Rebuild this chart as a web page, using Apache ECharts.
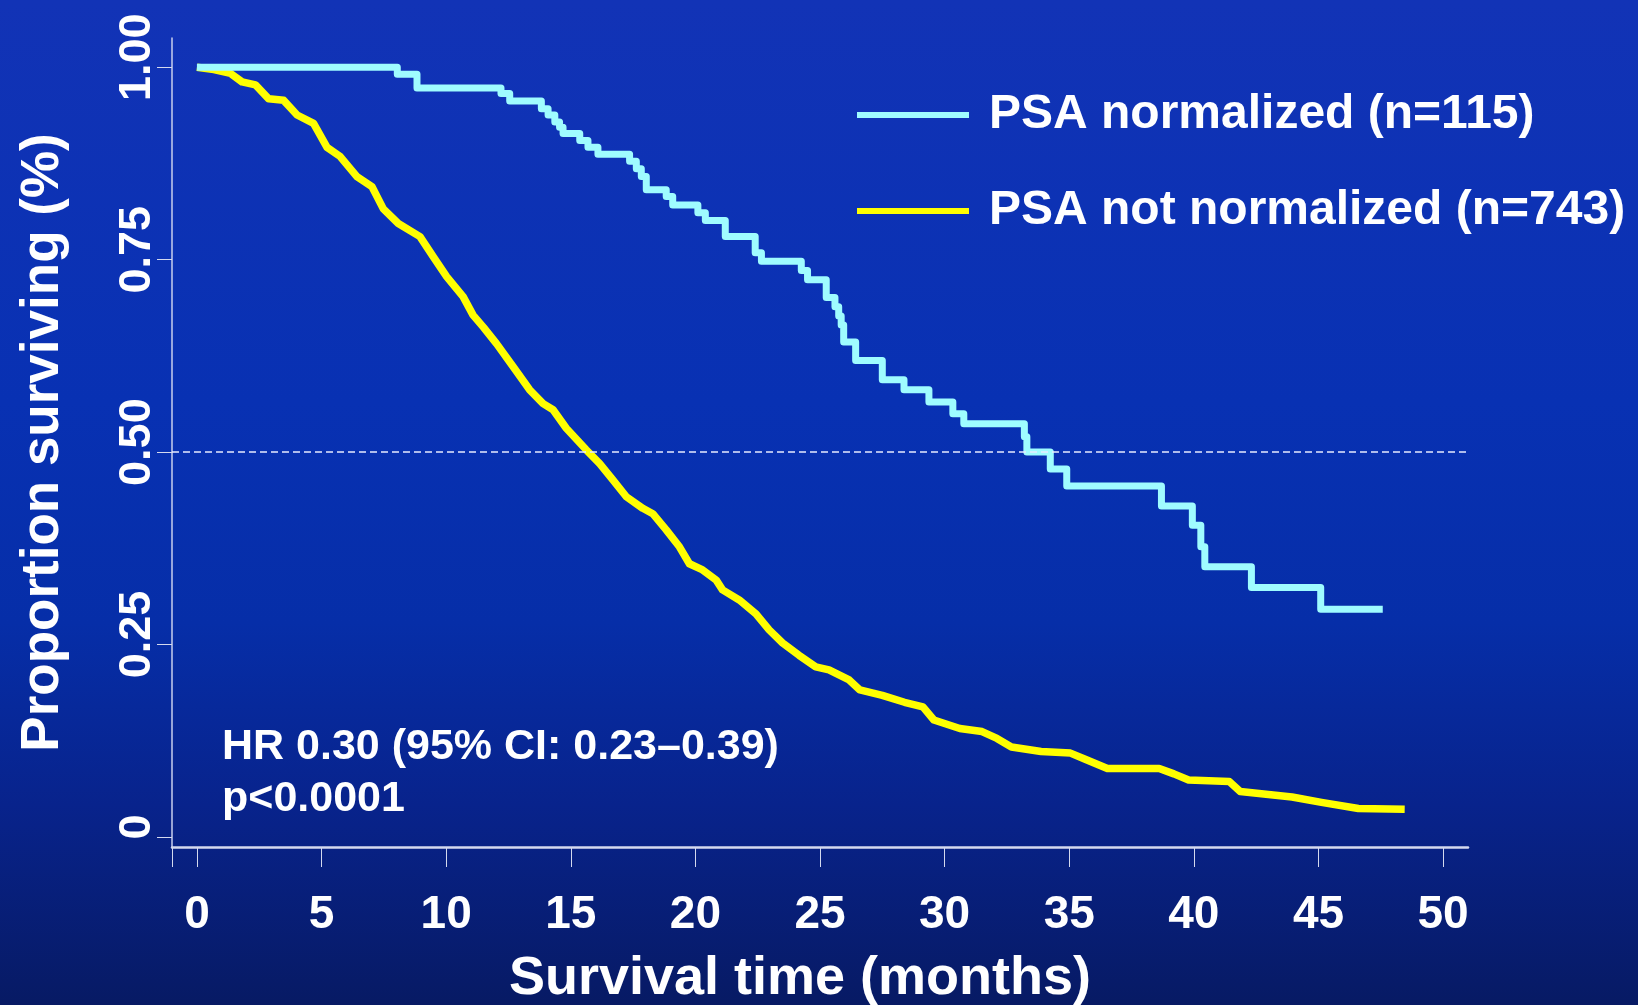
<!DOCTYPE html>
<html>
<head>
<meta charset="utf-8">
<script src="https://cdn.jsdelivr.net/npm/echarts@6/dist/echarts.min.js"></script>
<style>
html, body { margin: 0; padding: 0; }
#main {
	width: 1638px;
	height: 1005px;
	background: linear-gradient(to bottom, #1233b6 0%, #0831b3 40%, #062ea8 62%, #08238c 80%, #071a64 100%);
}
</style>
</head>
<body>
<div id="main"></div>
<script>
// 图例名称
var seriesNames = ['PSA normalized (n=115)', 'PSA not normalized (n=743)'];

// 坐标轴刻度
var xTicks = [0, 5, 10, 15, 20, 25, 30, 35, 40, 45, 50];
var xTickMarks = [-1, 0, 5, 10, 15, 20, 25, 30, 35, 40, 45, 50];
var yTicks = [0, 0.25, 0.5, 0.75, 1];
var yTickLabels = ['0', '0.25', '0.50', '0.75', '1.00'];

// PSA normalized: 每次下降的时间(月) 和 下降后的生存比例
var normTime = [0, 8.04, 8.83, 12.2, 12.55, 13.82, 14.09, 14.36, 14.55, 14.69, 15.36, 15.69, 16.09,
	17.36, 17.63, 17.83, 18.03, 18.83, 19.09, 20.1, 20.4, 21.2, 22.4, 22.65, 24.25, 24.5, 25.25,
	25.6, 25.75, 25.85, 25.95, 26.43, 27.5, 28.37, 29.37, 30.33, 30.77, 33.2, 33.3, 34.24, 34.9,
	38.7, 39.94, 40.28, 40.44, 42.31, 45.09, 47.58];
var normSurv = [1, 0.991, 0.973, 0.966, 0.956, 0.946, 0.938, 0.929, 0.922, 0.914, 0.905, 0.896, 0.887,
	0.878, 0.868, 0.858, 0.841, 0.832, 0.821, 0.811, 0.801, 0.780, 0.759, 0.748, 0.736, 0.724, 0.701,
	0.689, 0.677, 0.665, 0.643, 0.619, 0.594, 0.581, 0.565, 0.550, 0.537, 0.520, 0.500, 0.478, 0.456,
	0.430, 0.405, 0.377, 0.351, 0.324, 0.296, 0.296];

// PSA not normalized
var notNormTime = [0, 0.68, 1.35, 1.81, 2.35, 2.88, 3.48, 4.02, 4.68, 5.22, 5.75, 6.42, 7.02, 7.48,
	8.08, 8.95, 9.48, 10.02, 10.68, 11.08, 11.5, 12.02, 12.69, 13.35, 13.89, 14.29, 14.82, 15.62,
	16.16, 16.69, 17.23, 17.89, 18.29, 18.83, 19.36, 19.76, 20.29, 20.83, 21.09, 21.76, 22.43,
	22.96, 23.5, 24.16, 24.83, 25.36, 26.17, 26.6, 27.5, 28.39, 29.13, 29.57, 30.61, 31.5, 32.1,
	32.68, 33.87, 35.05, 35.64, 36.53, 38.61, 39.2, 39.79, 41.42, 41.86, 43.94, 45.12, 46.6, 48.46];
var notNormSurv = [1, 0.997, 0.992, 0.981, 0.977, 0.959, 0.957, 0.938, 0.927, 0.896, 0.884, 0.858,
	0.845, 0.816, 0.797, 0.780, 0.754, 0.728, 0.702, 0.678, 0.662, 0.641, 0.611, 0.581, 0.563,
	0.555, 0.531, 0.503, 0.485, 0.464, 0.442, 0.427, 0.420, 0.399, 0.377, 0.355, 0.347, 0.334,
	0.321, 0.308, 0.290, 0.269, 0.252, 0.236, 0.221, 0.217, 0.204, 0.191, 0.184, 0.175, 0.169,
	0.152, 0.141, 0.137, 0.128, 0.117, 0.111, 0.109, 0.101, 0.089, 0.089, 0.082, 0.074, 0.072,
	0.059, 0.052, 0.045, 0.037, 0.036];

var fontFam = '"Liberation Sans", Arial, sans-serif';

function pairs(xs, ys) {
	var out = [];
	for (var i = 0; i < xs.length; i++) {
		out.push([xs[i], ys[i]]);
	}
	return out;
}

var myChart = echarts.init(document.getElementById('main'));

var option = {
	backgroundColor: 'transparent',
	animation: false,
	grid: {
		left: 172,
		right: 170,
		top: 38,
		bottom: 158,
		outerBoundsMode: 'none' // 不要自动缩小绘图区
	},
	legend: {
		orient: 'vertical',
		left: 852,
		top: 86,
		itemWidth: 112,
		itemHeight: 6,
		itemGap: 48,
		icon: 'rect',
		data: seriesNames,
		textStyle: {
			color: '#ffffff',
			fontSize: 48,
			fontWeight: 'bold',
			fontFamily: fontFam,
			lineHeight: 48,
			padding: [0, 0, 0, 15]
		}
	},
	xAxis: {
		type: 'value',
		min: -1,
		max: 51,
		axisLine: {
			show: true,
			onZero: false,
			lineStyle: { color: '#d4d9ee', width: 2.5 }
		},
		axisTick: {
			show: true,
			length: 20,
			customValues: xTickMarks,
			lineStyle: { color: '#d4d9ee', width: 1 }
		},
		axisLabel: {
			customValues: xTicks,
			margin: 45,
			color: '#ffffff',
			fontSize: 46,
			fontWeight: 'bold',
			fontFamily: fontFam
		},
		splitLine: { show: false },
		name: 'Survival time (months)',
		nameLocation: 'middle',
		nameGap: 105,
		nameTextStyle: {
			color: '#ffffff',
			fontSize: 54,
			fontWeight: 'bold',
			fontFamily: fontFam,
			padding: [0, 40, 0, 0]
		}
	},
	yAxis: {
		type: 'value',
		min: -0.013,
		max: 1.038,
		axisLine: {
			show: true,
			onZero: false,
			lineStyle: { color: '#c8cfee', width: 1.5 }
		},
		axisTick: {
			show: true,
			length: 15,
			customValues: yTicks,
			lineStyle: { color: '#d4d9ee', width: 1 }
		},
		axisLabel: {
			customValues: yTicks,
			rotate: 90,
			margin: 12,
			color: '#ffffff',
			fontSize: 45,
			fontWeight: 'bold',
			fontFamily: fontFam,
			padding: [0, 0, 0, 20],
			formatter: function (v) {
				var i = yTicks.indexOf(v);
				return i >= 0 ? yTickLabels[i] : '';
			}
		},
		splitLine: { show: false },
		name: 'Proportion surviving (%)',
		nameLocation: 'middle',
		nameGap: 102,
		nameTextStyle: {
			color: '#ffffff',
			fontSize: 53,
			fontWeight: 'bold',
			fontFamily: fontFam
		}
	},
	graphic: [
		{
			type: 'text',
			left: 222,
			top: 721,
			style: {
				text: 'HR 0.30 (95% CI: 0.23\u20130.39)\np<0.0001',
				fill: '#ffffff',
				font: 'bold 43px ' + fontFam,
				lineHeight: 52
			}
		}
	],
	series: [
		{
			name: seriesNames[0],
			type: 'line',
			step: 'end',
			z: 4,
			showSymbol: false,
			symbol: 'none',
			color: '#9ffcff',
			lineStyle: { width: 7, color: '#9ffcff', join: 'round' },
			data: pairs(normTime, normSurv)
		},
		{
			name: seriesNames[1],
			type: 'line',
			z: 3,
			showSymbol: false,
			symbol: 'none',
			color: '#ffff00',
			lineStyle: { width: 7.5, color: '#ffff00', join: 'round' },
			data: pairs(notNormTime, notNormSurv),
			markLine: {
				silent: true,
				symbol: 'none',
				label: { show: false },
				lineStyle: { color: '#e6eaff', width: 1.5, type: [7, 4] },
				data: [{ yAxis: 0.5 }]
			}
		}
	]
};

myChart.setOption(option);
</script>
</body>
</html>
